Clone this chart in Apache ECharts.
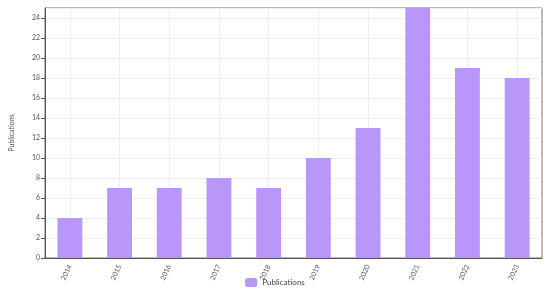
<!DOCTYPE html>
<html>
<head>
<meta charset="utf-8">
<script src="https://cdn.jsdelivr.net/npm/echarts@6/dist/echarts.min.js"></script>
<style>
  html, body { margin: 0; padding: 0; background: #fff; }
  #chart { width: 550px; height: 295px; }
</style>
</head>
<body>
<div id="chart"></div>
<script>
// publications per year
const years = ['2014', '2015', '2016', '2017', '2018', '2019', '2020', '2021', '2022', '2023']
const publications = [4, 7, 7, 8, 7, 10, 13, 25, 19, 18]
const seriesName = 'Publications'

const chart = echarts.init(document.getElementById('chart'))
chart.setOption({
  animation: false,
  grid: {
    left: 42,
    right: 8,
    top: 8,
    bottom: 37,
    show: true,
    borderColor: '#777',
    borderWidth: 1
  },
  legend: {
    bottom: 3,
    left: 'center',
    itemWidth: 12,
    itemHeight: 9,
    textStyle: { fontSize: 8, color: '#444', fontFamily: 'Lato' },
    data: [seriesName]
  },
  xAxis: {
    type: 'category',
    data: years,
    axisLine: { lineStyle: { color: '#555' } },
    axisTick: { alignWithLabel: true, length: 4, lineStyle: { color: '#555' } },
    axisLabel: { rotate: 65, fontSize: 7, color: '#555', margin: 7, fontFamily: 'Lato' },
    splitLine: { show: true, alignWithLabel: true, lineStyle: { color: '#eee' } }
  },
  yAxis: {
    type: 'value',
    min: 0,
    max: 25,
    interval: 2,
    name: 'Publications',
    nameLocation: 'middle',
    nameGap: 30,
    nameTextStyle: { fontSize: 7, color: '#555', fontFamily: 'Lato' },
    axisLine: { show: true, lineStyle: { color: '#555' } },
    axisTick: { show: true, length: 4, lineStyle: { color: '#555' } },
    axisLabel: { fontSize: 7, color: '#555', margin: 5, fontFamily: 'Lato', showMaxLabel: false },
    splitLine: { lineStyle: { color: '#eee' } }
  },
  series: [{
    name: seriesName,
    type: 'bar',
    barWidth: '50%',
    data: publications,
    itemStyle: { color: '#b896fa' }
  }]
})
</script>
</body>
</html>
